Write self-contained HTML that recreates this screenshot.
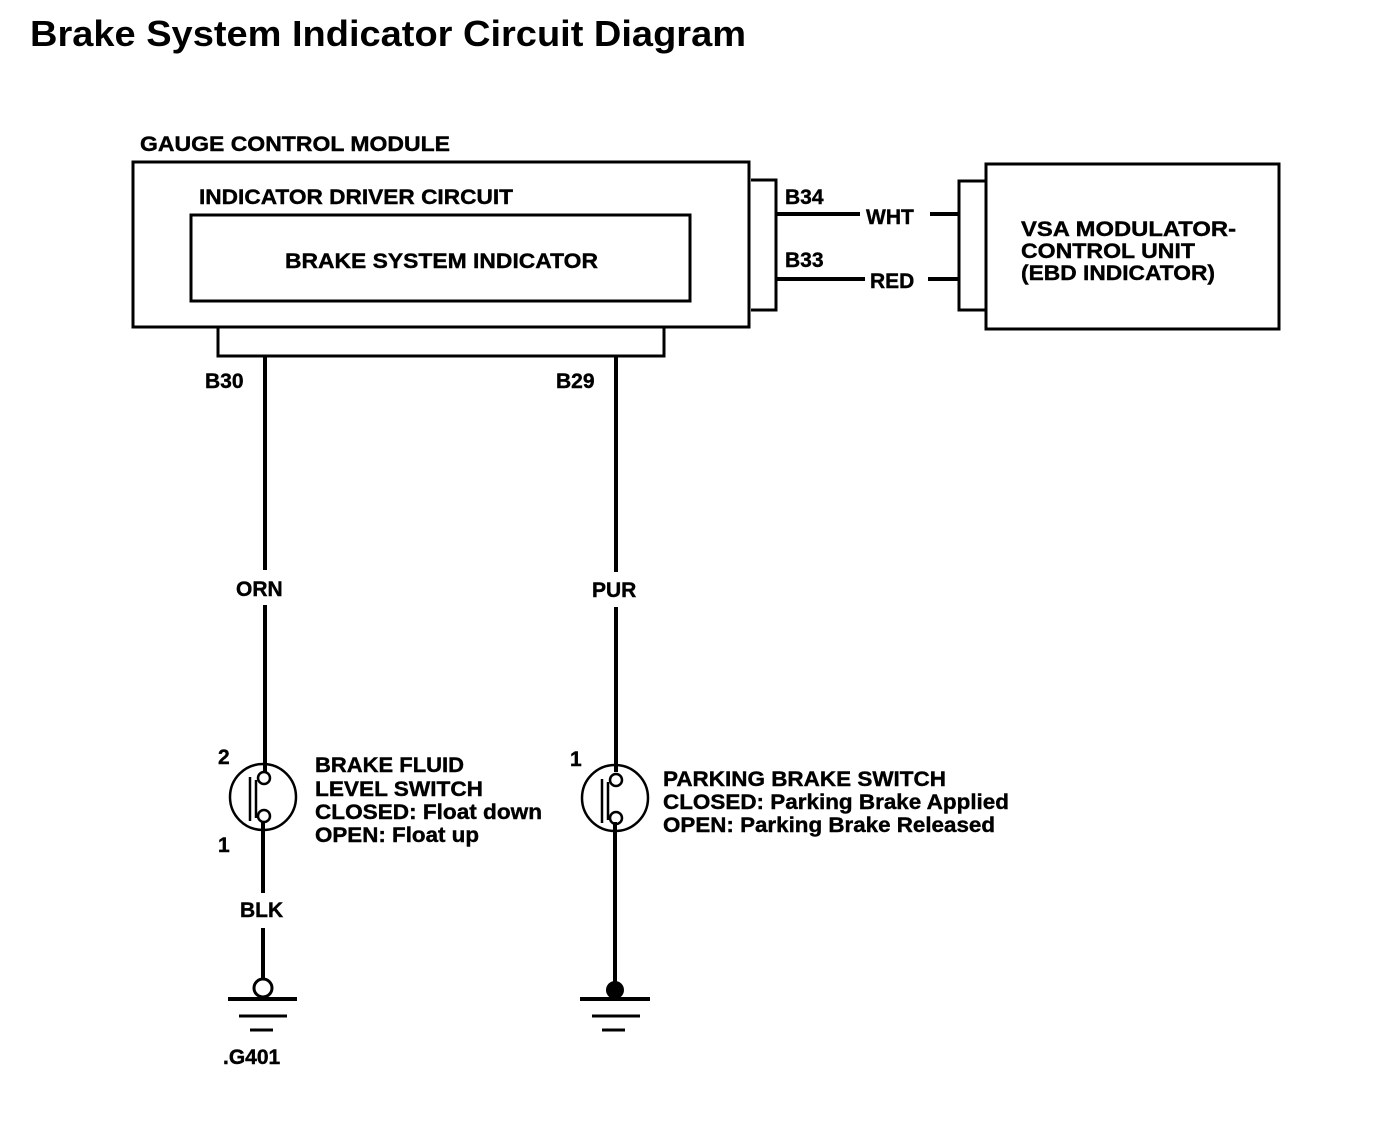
<!DOCTYPE html>
<html><head><style>
body{margin:0;background:#fff}
svg text{font-family:"Liberation Sans",Arial,sans-serif;font-weight:bold;fill:#000}
</style></head><body>
<svg width="1376" height="1138" viewBox="0 0 1376 1138" xmlns="http://www.w3.org/2000/svg">
<text x="30" y="46" font-size="36" textLength="716" lengthAdjust="spacingAndGlyphs">Brake System Indicator Circuit Diagram</text>
<g fill="none" stroke="#000" stroke-width="3">
<rect x="133" y="162" width="616" height="165"/>
<rect x="191" y="215" width="499" height="86"/>
<polyline points="218,327 218,356 664,356 664,327"/>
<polyline points="751,180 776,180 776,310 751,310"/>
<rect x="986" y="164" width="293" height="165"/>
<polyline points="986,181 959,181 959,310 986,310"/>
</g>
<g stroke="#000" stroke-width="4">
<line x1="776" y1="214" x2="860" y2="214"/><line x1="930" y1="214" x2="958" y2="214"/>
<line x1="776" y1="279" x2="865" y2="279"/><line x1="928" y1="279" x2="958" y2="279"/>
<line x1="265" y1="356" x2="265" y2="570"/><line x1="265" y1="605" x2="265" y2="772"/>
<line x1="263" y1="822" x2="263" y2="893"/><line x1="263" y1="928" x2="263" y2="979"/>
<line x1="616" y1="356" x2="616" y2="572"/><line x1="616" y1="607" x2="616" y2="772"/>
<line x1="615" y1="822" x2="615" y2="985"/>
<line x1="228" y1="999" x2="297" y2="999"/><line x1="239" y1="1016" x2="287" y2="1016" stroke-width="3"/><line x1="250" y1="1030" x2="273" y2="1030" stroke-width="3"/>
<line x1="580" y1="999" x2="650" y2="999"/><line x1="592" y1="1016" x2="640" y2="1016" stroke-width="3"/><line x1="602" y1="1030" x2="625" y2="1030" stroke-width="3"/>
</g>
<g fill="none" stroke="#000" stroke-width="2.5">
<circle cx="263" cy="797" r="33"/><circle cx="264" cy="778" r="6"/><circle cx="264" cy="816" r="6"/>
<line x1="250" y1="777" x2="250" y2="821"/><line x1="256" y1="780" x2="256" y2="818"/>
<circle cx="615" cy="798" r="33"/><circle cx="616" cy="780" r="6"/><circle cx="616" cy="818" r="6"/>
<line x1="602" y1="779" x2="602" y2="823"/><line x1="608" y1="782" x2="608" y2="820"/>
<circle cx="263" cy="988" r="9" stroke-width="3"/>
</g>
<circle cx="615" cy="990" r="9" fill="#000"/>
<g font-size="21" stroke="#000" stroke-width="0.4">
<text x="140" y="151" textLength="310" lengthAdjust="spacingAndGlyphs">GAUGE CONTROL MODULE</text>
<text x="199" y="204" textLength="314" lengthAdjust="spacingAndGlyphs">INDICATOR DRIVER CIRCUIT</text>
<text x="285" y="268" textLength="313" lengthAdjust="spacingAndGlyphs">BRAKE SYSTEM INDICATOR</text>
<text x="785" y="204">B34</text><text x="866" y="224">WHT</text>
<text x="785" y="267">B33</text><text x="870" y="288">RED</text>
<text x="1021" y="236" textLength="215" lengthAdjust="spacingAndGlyphs">VSA MODULATOR-</text>
<text x="1021" y="258" textLength="174" lengthAdjust="spacingAndGlyphs">CONTROL UNIT</text>
<text x="1021" y="280" textLength="194" lengthAdjust="spacingAndGlyphs">(EBD INDICATOR)</text>
<text x="205" y="388">B30</text><text x="556" y="388">B29</text>
<text x="236" y="596">ORN</text><text x="592" y="597">PUR</text>
<text x="218" y="764">2</text><text x="218" y="852">1</text><text x="570" y="766">1</text>
<text x="315" y="772" textLength="149" lengthAdjust="spacingAndGlyphs">BRAKE FLUID</text>
<text x="315" y="796" textLength="168" lengthAdjust="spacingAndGlyphs">LEVEL SWITCH</text>
<text x="315" y="819" textLength="227" lengthAdjust="spacingAndGlyphs">CLOSED: Float down</text>
<text x="315" y="842" textLength="164" lengthAdjust="spacingAndGlyphs">OPEN: Float up</text>
<text x="663" y="786" textLength="283" lengthAdjust="spacingAndGlyphs">PARKING BRAKE SWITCH</text>
<text x="663" y="809" textLength="346" lengthAdjust="spacingAndGlyphs">CLOSED: Parking Brake Applied</text>
<text x="663" y="832" textLength="332" lengthAdjust="spacingAndGlyphs">OPEN: Parking Brake Released</text>
<text x="240" y="917">BLK</text>
<text x="223" y="1064">.G401</text>
</g>
</svg>
</body></html>
